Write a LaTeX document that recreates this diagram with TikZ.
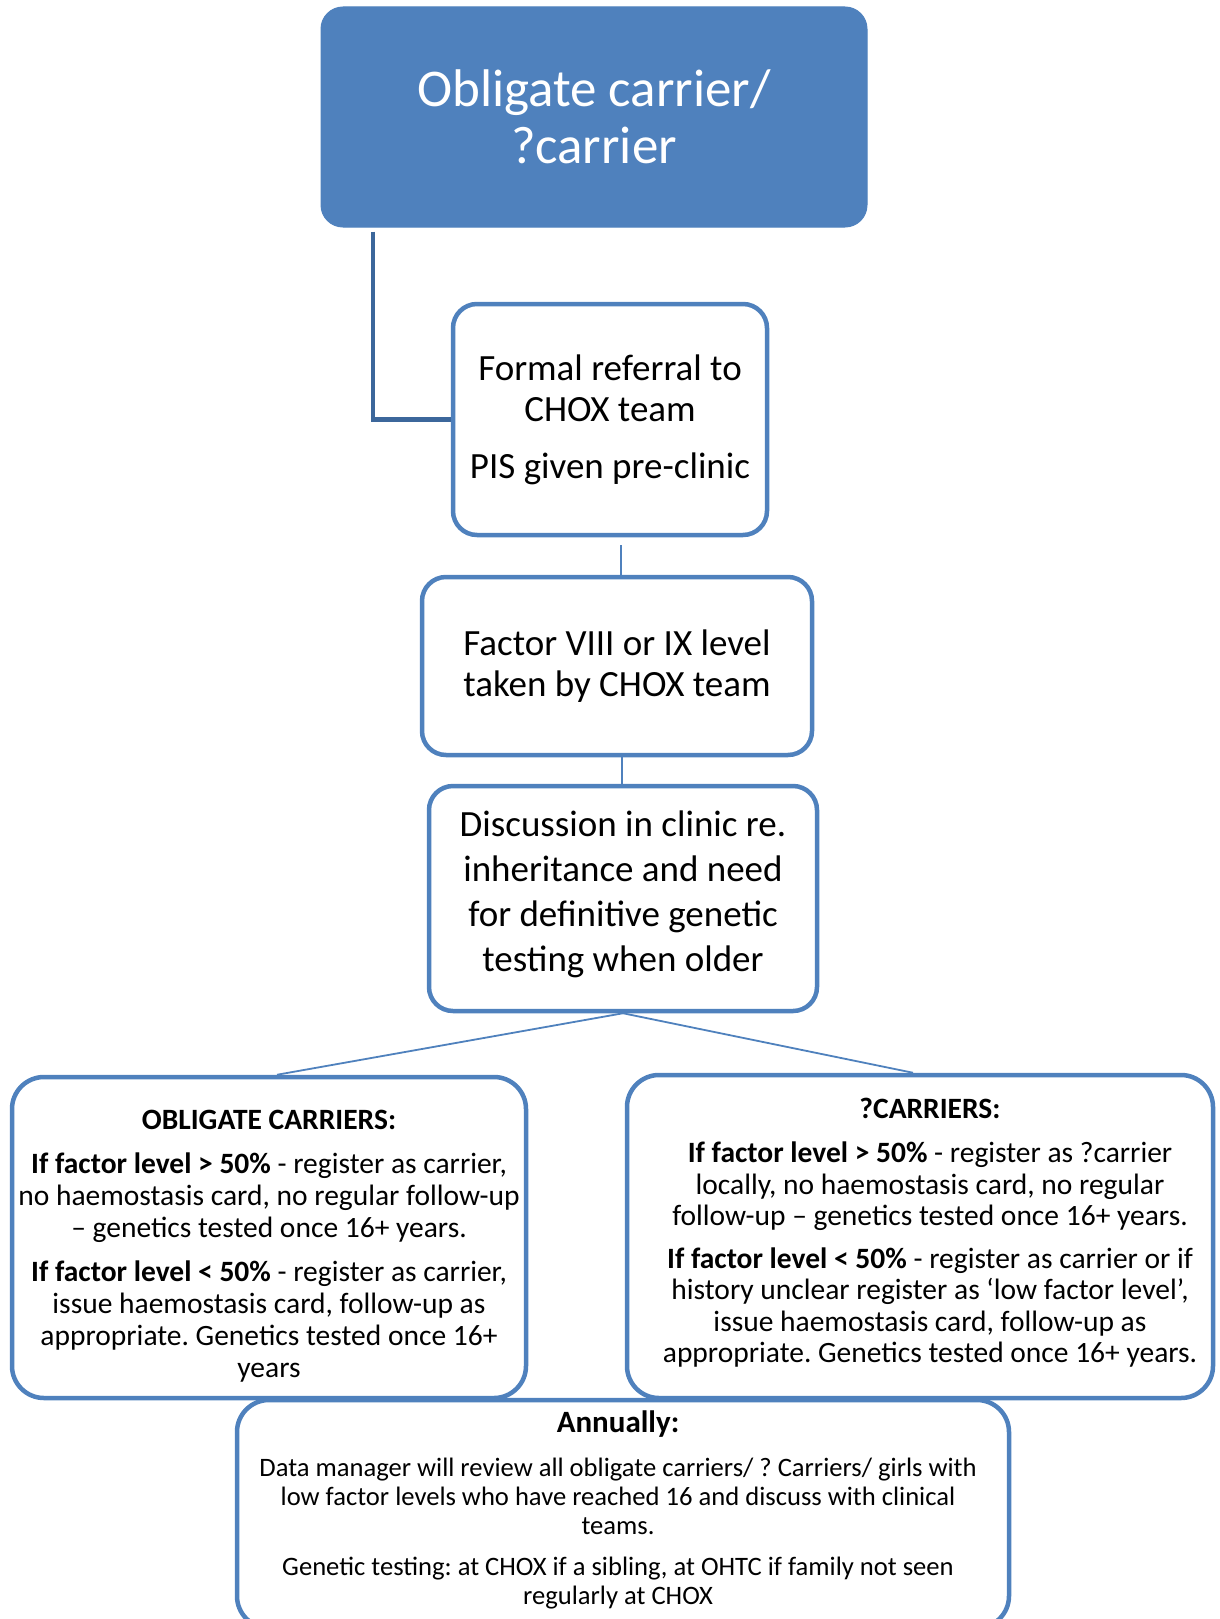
\documentclass[tikz,border=0pt]{standalone}
\usepackage{fontspec}
\setmainfont{Carlito}
\usetikzlibrary{calc}
\definecolor{cblue}{RGB}{79,129,189}
\definecolor{cdark}{RGB}{60,103,155}
\frenchspacing
\begin{document}
\begin{tikzpicture}[x=1pt,y=-1pt,
  box/.style={draw=cblue,line width=4.5pt,fill=white,rounded corners=24pt,align=center,inner sep=0pt,text=black},
  bigbox/.style={box,rounded corners=32pt},
  boxtext/.style={align=center,inner sep=0pt,text=black},
  thinline/.style={draw=cblue,line width=1.8pt},
  elbow/.style={draw=cdark,line width=4.5pt},
]
\useasboundingbox (0,0) rectangle (1220,1619);
\clip (0,0) rectangle (1220,1619);

% boxes
\node[fill=cblue,draw=cblue,line width=1pt,rounded corners=22pt,minimum width=546pt,minimum height=220pt,
  text=white,align=center,inner sep=0pt,font=\fontsize{53}{57}\selectfont] (top) at (594,117)
  {Obligate carrier/\\?carrier};

\node[box,minimum width=314pt,minimum height=231pt,font=\fontsize{37}{41}\selectfont] (box2) at (610,419.5)
  {Formal referral to\\CHOX team\\[16pt]PIS given pre-clinic};

\node[box,minimum width=390pt,minimum height=178pt,font=\fontsize{37}{41}\selectfont] (box3) at (617,666)
  {Factor VIII or IX level\\taken by CHOX team};

\node[box,minimum width=388pt,minimum height=225pt] (box4) at (623,898.5) {};
\node[boxtext,font=\fontsize{37}{45}\selectfont] (box4txt) at (623,894.5)
  {Discussion in clinic re.\\inheritance and need\\for definitive genetic\\testing when older};

% connectors
\coordinate (e1) at ([xshift=-221pt,yshift=-4pt]top.south);
\draw[elbow] (e1) |- (box2.west);
\draw[thinline] ([xshift=11pt,yshift=-8pt]box2.south) -- ([xshift=4pt]box3.north);
\draw[thinline] ([xshift=5pt]box3.south) -- ([xshift=-1pt]box4.north);

\node[bigbox,minimum width=514pt,minimum height=321pt] (box5) at (269,1237.5) {};
\node[boxtext,font=\fontsize{29.5}{32}\selectfont] (box5txt) at (269,1246)
  {\textbf{OBLIGATE CARRIERS:}\\[12pt]
   \textbf{If factor level > 50\%} - register as carrier,\\
   no haemostasis card, no regular follow-up\\
   – genetics tested once 16+ years.\\[12pt]
   \textbf{If factor level < 50\%} - register as carrier,\\
   issue haemostasis card, follow-up as\\
   appropriate. Genetics tested once 16+\\
   years};

\node[bigbox,minimum width=586pt,minimum height=323pt] (box6) at (920,1236.5) {};
\node[boxtext,font=\fontsize{29.5}{31.5}\selectfont] (box6txt) at (930,1232.5)
  {\textbf{?CARRIERS:}\\[13pt]
   \textbf{If factor level > 50\%} - register as ?carrier\\
   locally, no haemostasis card, no regular\\
   follow-up – genetics tested once 16+ years.\\[11pt]
   \textbf{If factor level < 50\%} - register as carrier or if\\
   history unclear register as ‘low factor level’,\\
   issue haemostasis card, follow-up as\\
   appropriate. Genetics tested once 16+ years.};

\draw[thinline] (box4.south) -- ([xshift=8pt]box5.north);
\draw[thinline] (box4.south) -- ([xshift=-7pt]box6.north);

\node[bigbox,minimum width=772pt,minimum height=228pt] (box7) at (623,1514) {};
\node[boxtext,font=\fontsize{26.6}{29}\selectfont] (box7txt) at (618,1510)
  {{\fontsize{31}{35}\selectfont\textbf{Annually:}}\\[15pt]
   Data manager will review all obligate carriers/ ? Carriers/ girls with\\
   low factor levels who have reached 16 and discuss with clinical\\
   teams.\\[12pt]
   Genetic testing: at CHOX if a sibling, at OHTC if family not seen\\
   regularly at CHOX};
\end{tikzpicture}
\end{document}
